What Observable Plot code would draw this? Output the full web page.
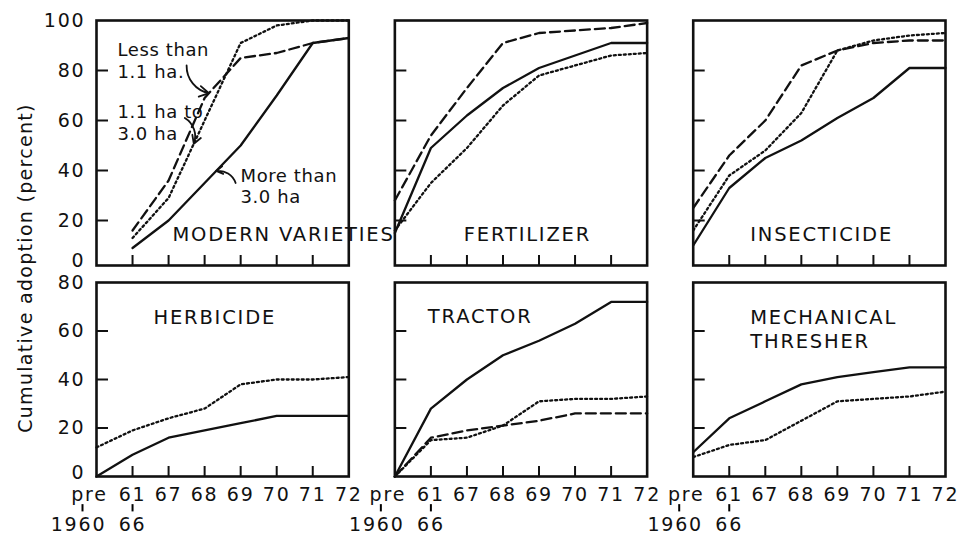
<!DOCTYPE html>
<html><head><meta charset="utf-8">
<script src="https://cdn.jsdelivr.net/npm/d3@7"></script>
<script src="https://cdn.jsdelivr.net/npm/@observablehq/plot@0.6"></script>
<style>
body{margin:0;background:#fff;}
#chart{position:relative;width:959px;height:534px;font-family:"DejaVu Sans",sans-serif;color:#111;overflow:hidden;}
#ylab{position:absolute;left:25px;top:268px;transform:translate(-50%,-50%) rotate(-90deg);font-size:19px;letter-spacing:1.3px;white-space:nowrap;}
#top,#bottom{position:absolute;left:0;}
#top{top:0;} #bottom{top:270px;}
</style></head><body>
<div id="chart"><div id="top"></div><div id="bottom"></div><div id="ylab">Cumulative adoption (percent)</div></div>
<script>
// ---- data ----
const periods = ["pre 1960","61-66","67","68","69","70","71","72"];
const tickLabels = ["pre\n1960","61\n66","67","68","69","70","71","72"];
const topPanels = ["MODERN VARIETIES","FERTILIZER","INSECTICIDE"];
const bottomPanels = ["HERBICIDE","TRACTOR","MECHANICAL\nTHRESHER"];
const groups = ["Less than 1.1 ha.","1.1 ha to 3.0 ha","More than 3.0 ha"];
const groupLabels = ["Less than\n1.1 ha.","1.1 ha to\n3.0 ha","More than\n3.0 ha"];
const topYTicks = [0,20,40,60,80,100];
const bottomYTicks = [0,20,40,60,80];

const mvSmall  = [null, 16, 36, 69, 85, 87, 91, 93];
const mvMedium = [null, 13, 29, 60, 91, 98, 100, 100];
const mvLarge  = [null, 9, 20, 35, 50, 70, 91, 93];
const fertSmall  = [28, 54, 73, 91, 95, 96, 97, 99];
const fertMedium = [16, 35, 49, 66, 78, 82, 86, 87];
const fertLarge  = [15, 49, 62, 73, 81, 86, 91, 91];
const insSmall  = [25, 46, 60, 82, 88, 91, 92, 92];
const insMedium = [16, 38, 48, 63, 88, 92, 94, 95];
const insLarge  = [10, 33, 45, 52, 61, 69, 81, 81];
const herbMedium = [12, 19, 24, 28, 38, 40, 40, 41];
const herbLarge  = [0, 9, 16, 19, 22, 25, 25, 25];
const tracSmall  = [0, 16, 19, 21, 23, 26, 26, 26];
const tracMedium = [0, 15, 16, 21, 31, 32, 32, 33];
const tracLarge  = [0, 28, 40, 50, 56, 63, 72, 72];
const threshMedium = [8, 13, 15, 23, 31, 32, 33, 35];
const threshLarge  = [10, 24, 31, 38, 41, 43, 45, 45];

// ---- table ----
const table = [];
function addSeries(panel, group, values) {
  values.forEach((v, i) => { if (v != null) table.push({panel, group, period: periods[i], i, v}); });
}
addSeries(topPanels[0], groups[0], mvSmall);
addSeries(topPanels[0], groups[1], mvMedium);
addSeries(topPanels[0], groups[2], mvLarge);
addSeries(topPanels[1], groups[0], fertSmall);
addSeries(topPanels[1], groups[1], fertMedium);
addSeries(topPanels[1], groups[2], fertLarge);
addSeries(topPanels[2], groups[0], insSmall);
addSeries(topPanels[2], groups[1], insMedium);
addSeries(topPanels[2], groups[2], insLarge);
addSeries(bottomPanels[0], groups[1], herbMedium);
addSeries(bottomPanels[0], groups[2], herbLarge);
addSeries(bottomPanels[1], groups[0], tracSmall);
addSeries(bottomPanels[1], groups[1], tracMedium);
addSeries(bottomPanels[1], groups[2], tracLarge);
addSeries(bottomPanels[2], groups[1], threshMedium);
addSeries(bottomPanels[2], groups[2], threshLarge);

const INK = "#111";
const at = (arr, t) => { const a = Math.floor(t), f = t - a; return arr[a] + (arr[a + 1] - arr[a]) * f; };
const idx = periods.map((d, i) => i);
const BANDW = 252.3;
const line1 = i => tickLabels[i].split("\n")[0];
const line2 = i => tickLabels[i].split("\n")[1];

function seriesMarks(rows) {
  return [
    Plot.line(rows.filter(d => d.group === groups[2]), {x: "i", y: "v", fx: "panel", stroke: INK, strokeWidth: 2.3}),
    Plot.line(rows.filter(d => d.group === groups[0]), {x: "i", y: "v", fx: "panel", stroke: INK, strokeWidth: 2.3, strokeDasharray: "10,5"}),
    Plot.line(rows.filter(d => d.group === groups[1]), {x: "i", y: "v", fx: "panel", stroke: INK, strokeWidth: 2.3, strokeDasharray: "2,3"})
  ];
}

function basePlot(panels, opts, marks) {
  return Plot.plot({
    width: 959, height: opts.height,
    marginLeft: 96, marginRight: 14, marginTop: opts.mt, marginBottom: opts.mb,
    style: {fontFamily: "DejaVu Sans", fontSize: "19px", letterSpacing: "1.8px", color: INK, background: "transparent", overflow: "visible"},
    fx: {domain: panels, paddingInner: 0.1544, paddingOuter: 0, round: false, axis: null, label: null},
    x: {domain: [0, 7], axis: null, label: null},
    y: {...opts.y, axis: null, label: null},
    marks
  });
}

// ---- top row ----
const topRows = table.filter(d => topPanels.includes(d.panel));
const annot = {fx: () => topPanels[0], frameAnchor: "top-left", textAnchor: "start", lineAnchor: "top", fontSize: 18, lineHeight: 1.22};
const topPlot = basePlot(topPanels, {height: 270, mt: 20, mb: 5, y: {domain: [0, 100], range: [270, 20]}}, [
  ...seriesMarks(topRows),
  Plot.tickX(idx.slice(1, 7), {x: d => d, insetTop: 235, stroke: INK, strokeWidth: 2}),
  Plot.tickY(topYTicks.slice(1, 5), {y: d => d, insetRight: BANDW - 12, stroke: INK, strokeWidth: 2}),
  Plot.frame({stroke: INK, strokeWidth: 2.6}),
  Plot.axisY({ticks: topYTicks.slice(1), tickSize: 0, tickPadding: 11, fontSize: 19, label: null}),
  Plot.axisY({ticks: [0], tickSize: 0, tickPadding: 11, fontSize: 19, dy: -10, label: null}),
  Plot.text([topPanels[0]], {fx: d => d, text: d => d, frameAnchor: "bottom-left", textAnchor: "start", lineAnchor: "bottom", dx: 76, dy: -25, fontSize: 19.5}),
  Plot.text([topPanels[1]], {fx: d => d, text: d => d, frameAnchor: "bottom-left", textAnchor: "start", lineAnchor: "bottom", dx: 69, dy: -25, fontSize: 19.5}),
  Plot.text([topPanels[2]], {fx: d => d, text: d => d, frameAnchor: "bottom-left", textAnchor: "start", lineAnchor: "bottom", dx: 57, dy: -25, fontSize: 19.5}),
  // size-group annotations in the modern-varieties panel
  Plot.text([groupLabels[0]], {...annot, text: d => d, dx: 21, dy: 20}),
  Plot.text([groupLabels[1]], {...annot, text: d => d, dx: 21, dy: 82}),
  Plot.text([groupLabels[2]], {...annot, text: d => d, dx: 144, dy: 147, lineHeight: 1.15}),
  Plot.arrow([groups[0]], {fx: () => topPanels[0], x1: 2.5, y1: 82, x2: 3.12, y2: at(mvSmall, 3.12), bend: -40, stroke: INK, strokeWidth: 1.8, headLength: 9}),
  Plot.arrow([groups[1]], {fx: () => topPanels[0], x1: 2.45, y1: 61, x2: 2.7, y2: at(mvMedium, 2.7), bend: 40, stroke: INK, strokeWidth: 1.8, headLength: 9}),
  Plot.arrow([groups[2]], {fx: () => topPanels[0], x1: 3.86, y1: 35, x2: 3.32, y2: at(mvLarge, 3.32), bend: -40, stroke: INK, strokeWidth: 1.8, headLength: 9})
]);
d3.select(topPlot).selectAll('g[aria-label="text"] text')
  .filter(function () { return /ha/.test(this.textContent); })
  .attr("letter-spacing", "0.6px");
document.getElementById("top").appendChild(topPlot);

// ---- bottom row ----
const botRows = table.filter(d => bottomPanels.includes(d.panel));
const xLab = {tickSize: 0, fontSize: 19, label: null};
const botPlot = basePlot(bottomPanels, {height: 264, mt: 12, mb: 58, y: {domain: [0, 80], range: [206, 12]}}, [
  ...seriesMarks(botRows),
  Plot.tickX(idx.slice(1, 7), {x: d => d, insetTop: 184, stroke: INK, strokeWidth: 2}),
  Plot.tickY(bottomYTicks.slice(1, 4), {y: d => d, insetRight: BANDW - 12, stroke: INK, strokeWidth: 2}),
  Plot.frame({stroke: INK, strokeWidth: 2.6}),
  Plot.axisY({ticks: bottomYTicks.slice(1), tickSize: 0, tickPadding: 11, fontSize: 19, label: null}),
  Plot.axisY({ticks: [0], tickSize: 0, tickPadding: 11, fontSize: 19, dy: -4, label: null}),
  // first line of the period labels
  Plot.axisX({...xLab, ticks: idx.slice(1), tickFormat: line1, tickPadding: 10.5}),
  Plot.axisX({...xLab, ticks: [0], tickFormat: line1, tickPadding: 10.5, dx: -7}),
  // second line of the two-line labels ("pre–1960", "61–66")
  Plot.axisX({...xLab, ticks: [0], tickFormat: line2, tickPadding: 41, dx: -18}),
  Plot.axisX({...xLab, ticks: [1], tickFormat: line2, tickPadding: 41}),
  // small range dashes between the two lines (drawn below the frame)
  Plot.ruleX([0], {x: d => d, y1: -11.6, y2: -14.6, dx: -14, stroke: "#000", strokeWidth: 2, clip: false}),
  Plot.ruleX([1], {x: d => d, y1: -11.6, y2: -14.6, stroke: "#000", strokeWidth: 2, clip: false}),
  Plot.text([bottomPanels[0]], {fx: d => d, text: d => d, frameAnchor: "top-left", textAnchor: "start", lineAnchor: "bottom", dx: 57, dy: 41, fontSize: 19.5}),
  Plot.text([bottomPanels[1]], {fx: d => d, text: d => d, frameAnchor: "top-left", textAnchor: "start", lineAnchor: "bottom", dx: 33, dy: 40, fontSize: 19.5}),
  Plot.text([bottomPanels[2]], {fx: d => d, text: d => d, frameAnchor: "top-left", textAnchor: "start", lineAnchor: "bottom", dx: 57, dy: 65, fontSize: 19.5, lineHeight: 1.23})
]);
document.getElementById("bottom").appendChild(botPlot);
</script>
</body></html>
